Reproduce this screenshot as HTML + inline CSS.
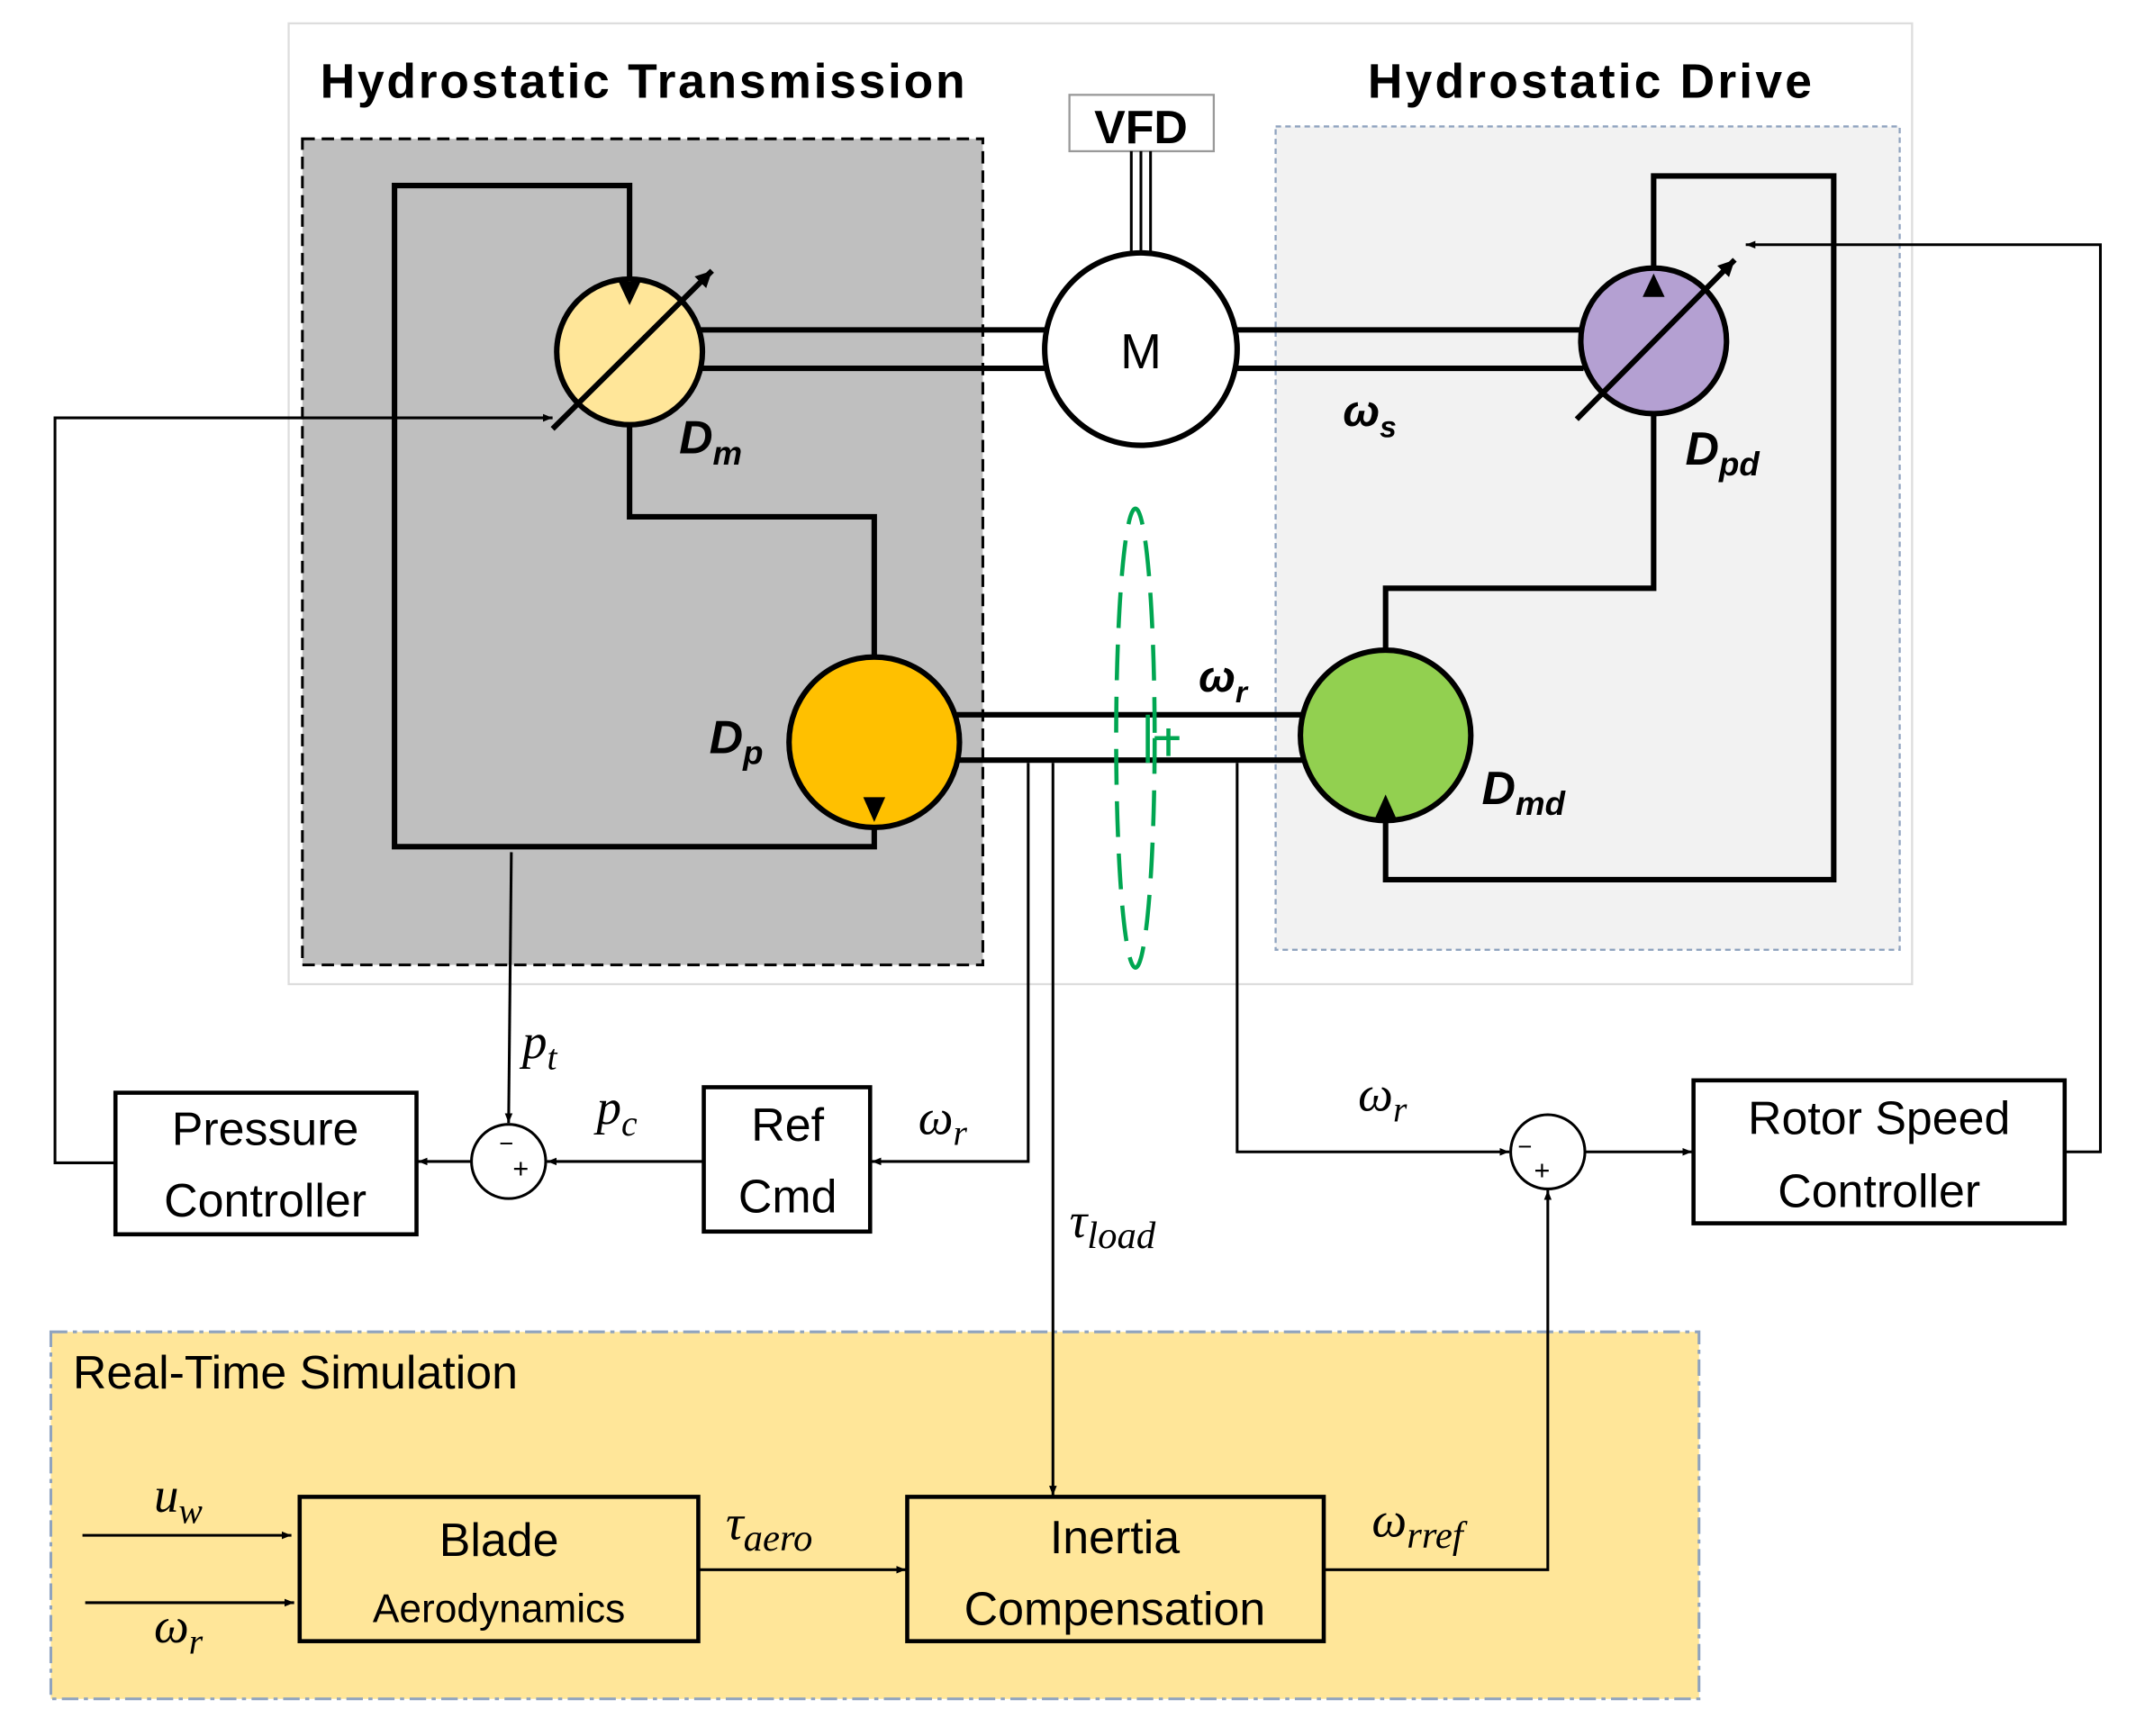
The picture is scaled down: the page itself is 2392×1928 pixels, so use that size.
<!DOCTYPE html>
<html><head><meta charset="utf-8"><style>html,body{margin:0;padding:0;background:#fff}svg{display:block}</style></head>
<body>
<svg width="2392" height="1928" viewBox="0 0 1567 1263" preserveAspectRatio="none" xmlns="http://www.w3.org/2000/svg" font-family="Liberation Sans, sans-serif">
<defs>
<marker id="a" viewBox="0 0 10 10" refX="10" refY="5" markerWidth="7" markerHeight="7" orient="auto" markerUnits="userSpaceOnUse"><path d="M0,1 L10,5 L0,9 z" fill="#000"/></marker>
<marker id="b" viewBox="0 0 10 10" refX="10" refY="5" markerWidth="12" markerHeight="12" orient="auto" markerUnits="userSpaceOnUse"><path d="M0,0 L10,5 L0,10 z" fill="#000"/></marker>
</defs>
<rect x="210" y="17" width="1181" height="699" fill="#fff" stroke="#ddd" stroke-width="1.5"/>
<rect x="220" y="101" width="495" height="601" fill="#bfbfbf" stroke="#000" stroke-width="2" stroke-dasharray="9,5"/>
<rect x="928" y="92" width="454" height="599" fill="#f2f2f2" stroke="#8fa3bf" stroke-width="1.5" stroke-dasharray="4,3"/>
<rect x="37" y="969" width="1199" height="267" fill="#ffe699" stroke="#8fa3bf" stroke-width="2" stroke-dasharray="12,4,3,4"/>
<text x="233" y="71" font-size="35" font-weight="bold" textLength="469">Hydrostatic Transmission</text>
<text x="995" y="71" font-size="35" font-weight="bold" textLength="323">Hydrostatic Drive</text>
<rect x="778" y="69" width="105" height="41" fill="#fff" stroke="#999" stroke-width="1.5"/>
<text x="830" y="104" font-size="34" font-weight="bold" text-anchor="middle">VFD</text>
<g stroke="#000" stroke-width="2"><line x1="823" y1="110" x2="823" y2="184"/><line x1="830" y1="110" x2="830" y2="184"/><line x1="837" y1="110" x2="837" y2="184"/></g>
<g stroke="#000" stroke-width="4" fill="none">
<line x1="510" y1="240" x2="762" y2="240"/><line x1="510" y1="268" x2="762" y2="268"/>
<line x1="898" y1="240" x2="1152" y2="240"/><line x1="898" y1="268" x2="1152" y2="268"/>
<line x1="696" y1="520" x2="948" y2="520"/><line x1="696" y1="553" x2="948" y2="553"/>
<polyline points="458,210 458,135 287,135 287,616 636,616 636,600"/>
<polyline points="458,309 458,376 636,376 636,478"/>
<polyline points="1203,210 1203,128 1334,128 1334,640 1008,640 1008,597"/>
<polyline points="1203,301 1203,428 1008,428 1008,473"/>
</g>
<circle cx="830" cy="254" r="70" fill="#fff" stroke="#000" stroke-width="4"/>
<text x="830" y="268" font-size="36" text-anchor="middle">M</text>
<circle cx="458" cy="256" r="53" fill="#ffe699" stroke="#000" stroke-width="4"/>
<circle cx="636" cy="540" r="62" fill="#ffc000" stroke="#000" stroke-width="4"/>
<circle cx="1008" cy="535" r="62" fill="#92d050" stroke="#000" stroke-width="4"/>
<circle cx="1203" cy="248" r="53" fill="#b4a0d2" stroke="#000" stroke-width="4"/>
<path d="M450,205 L466,205 L458,222 z" fill="#000"/>
<path d="M628,580 L644,580 L636,598 z" fill="#000"/>
<path d="M1000,596 L1016,596 L1008,578 z" fill="#000"/>
<path d="M1195,216 L1211,216 L1203,199 z" fill="#000"/>
<line x1="402" y1="312" x2="518" y2="197" stroke="#000" stroke-width="4" marker-end="url(#b)"/>
<line x1="1147" y1="305" x2="1262" y2="189" stroke="#000" stroke-width="4" marker-end="url(#b)"/>
<g font-family="Liberation Sans, sans-serif" font-weight="bold" font-style="italic" font-size="34">
<text x="494" y="330">D<tspan font-size="24" dy="8">m</tspan></text>
<text x="516" y="548">D<tspan font-size="24" dy="8">p</tspan></text>
<text x="1226" y="338">D<tspan font-size="24" dy="8">pd</tspan></text>
<text x="1078" y="585">D<tspan font-size="24" dy="8">md</tspan></text>
<text x="977" y="310" font-size="32">ω<tspan font-size="22" dy="8">s</tspan></text>
<text x="872" y="503" font-size="32">ω<tspan font-size="22" dy="8">r</tspan></text>
</g>
<ellipse cx="826" cy="537" rx="14" ry="167" fill="none" stroke="#00a651" stroke-width="3" stroke-dasharray="26,12"/>
<path d="M835,520 L835,555 M840,537 L858,537 M850,530 L850,550" stroke="#00a651" stroke-width="3" fill="none"/>
<g stroke="#000" stroke-width="2" fill="none">
<polyline points="84,846 40,846 40,304 402,304" marker-end="url(#a)"/>
<polyline points="1502,838 1528,838 1528,178 1270,178" marker-end="url(#a)"/>
<line x1="372" y1="620" x2="370" y2="817" marker-end="url(#a)"/>
<line x1="343" y1="845" x2="304" y2="845" marker-end="url(#a)"/>
<line x1="512" y1="845" x2="398" y2="845" marker-end="url(#a)"/>
<polyline points="748,555 748,845 634,845" marker-end="url(#a)"/>
<line x1="766" y1="555" x2="766" y2="1088" marker-end="url(#a)"/>
<polyline points="900,555 900,838 1098,838" marker-end="url(#a)"/>
<line x1="1153" y1="838" x2="1231" y2="838" marker-end="url(#a)"/>
<line x1="60" y1="1117" x2="212" y2="1117" marker-end="url(#a)"/>
<line x1="62" y1="1166" x2="214" y2="1166" marker-end="url(#a)"/>
<line x1="508" y1="1142" x2="659" y2="1142" marker-end="url(#a)"/>
<polyline points="963,1142 1126,1142 1126,866" marker-end="url(#a)"/>
</g>
<circle cx="370" cy="845" r="27" fill="#fff" stroke="#000" stroke-width="2"/>
<text x="363" y="838" font-size="18">−</text><text x="373" y="857" font-size="20">+</text>
<circle cx="1126" cy="838" r="27" fill="#fff" stroke="#000" stroke-width="2"/>
<text x="1104" y="840" font-size="18">−</text><text x="1116" y="858" font-size="20">+</text>
<g fill="#fff" stroke="#000" stroke-width="3">
<rect x="84" y="795" width="219" height="103"/>
<rect x="512" y="791" width="121" height="105"/>
<rect x="1232" y="786" width="270" height="104"/>
</g>
<g font-size="34" text-anchor="middle">
<text x="193" y="833">Pressure</text><text x="193" y="885">Controller</text>
<text x="573" y="830">Ref</text><text x="573" y="882">Cmd</text>
<text x="1367" y="825">Rotor Speed</text><text x="1367" y="878">Controller</text>
</g>
<g font-family="Liberation Serif, serif" font-style="italic" font-size="36">
<text x="380" y="770">p<tspan font-size="26" dy="8">t</tspan></text>
<text x="434" y="818">p<tspan font-size="26" dy="8">c</tspan></text>
<text x="668" y="825">ω<tspan font-size="26" dy="8">r</tspan></text>
<text x="988" y="808">ω<tspan font-size="26" dy="8">r</tspan></text>
<text x="778" y="900">τ<tspan font-size="28" dy="8">load</tspan></text>
<text x="112" y="1100">u<tspan font-size="26" dy="8">w</tspan></text>
<text x="112" y="1195">ω<tspan font-size="26" dy="8">r</tspan></text>
<text x="528" y="1120">τ<tspan font-size="28" dy="8">aero</tspan></text>
<text x="998" y="1118">ω<tspan font-size="28" dy="8">rref</tspan></text>
</g>
<text x="53" y="1010" font-size="34">Real-Time Simulation</text>
<g fill="none" stroke="#000" stroke-width="3">
<rect x="218" y="1089" width="290" height="105"/>
<rect x="660" y="1089" width="303" height="105"/>
</g>
<text x="363" y="1132" font-size="34" text-anchor="middle">Blade</text>
<text x="363" y="1180" font-size="29" text-anchor="middle">Aerodynamics</text>
<text x="811" y="1130" font-size="34" text-anchor="middle">Inertia</text>
<text x="811" y="1182" font-size="34" text-anchor="middle">Compensation</text>
</svg>
</body></html>
